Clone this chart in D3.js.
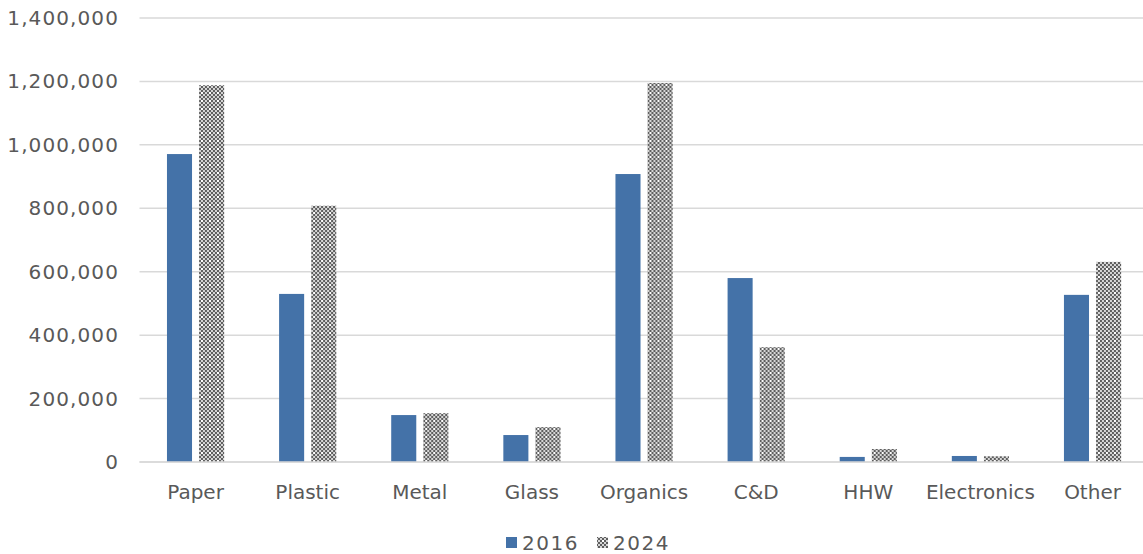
<!DOCTYPE html>
<html>
<head>
<meta charset="utf-8">
<script src="https://cdn.jsdelivr.net/npm/d3@7"></script>
<style>
  html, body { margin: 0; padding: 0; background: #fff; }
  svg { display: block; font-family: "DejaVu Sans", sans-serif; }
</style>
</head>
<body>
<svg id="chart" width="1143" height="554"></svg>
<script>
// Tonnage by material category, 2016 vs 2024
const categories = ["Paper", "Plastic", "Metal", "Glass", "Organics", "C&D", "HHW", "Electronics", "Other"];
const series = ["2016", "2024"];
const values2016 = [971000, 530000, 148000, 85000, 908000, 580000, 16000, 19000, 527000];
const values2024 = [1188000, 808000, 154000, 110000, 1195000, 362000, 41000, 18000, 631000];
const yTicks = [0, 200000, 400000, 600000, 800000, 1000000, 1200000, 1400000];

const svg = d3.select("#chart");
const margin = { left: 139.5, right: 1148.6, top: 18, bottom: 462 };

const x0 = d3.scaleBand().domain(categories)
  .range([margin.left, margin.right])
  .paddingInner(0.49).paddingOuter(0.245);
const x1 = d3.scaleBand().domain(series)
  .range([0, x0.bandwidth()]).paddingInner(0.22);
const y = d3.scaleLinear().domain([0, 1400000]).range([margin.bottom, margin.top]);

// Checkered fill for the 2024 series
const defs = svg.append("defs");
const pat = defs.append("pattern").attr("id", "checker")
  .attr("patternUnits", "userSpaceOnUse").attr("width", 8).attr("height", 8);
pat.append("rect").attr("width", 8).attr("height", 8).attr("fill", "#d6d6d6");
for (let i = 0; i < 4; i++) {
  for (let j = 0; j < 4; j++) {
    if ((i + j) % 2 === 0) {
      pat.append("rect").attr("x", i * 2).attr("y", j * 2).attr("width", 2).attr("height", 2).attr("fill", "#5e5e5e");
    }
  }
}
pat.append("rect").attr("x", 2).attr("y", 4).attr("width", 2).attr("height", 2).attr("fill", "#ffffff");
const fills = { "2016": "#4472a8", "2024": "url(#checker)" };

// Gridlines
svg.append("g").selectAll("line").data(yTicks).join("line")
  .attr("x1", margin.left).attr("x2", 1143)
  .attr("y1", d => y(d)).attr("y2", d => y(d))
  .attr("stroke", "#d9d9d9").attr("stroke-width", 1.5);

// Y axis labels
svg.append("g").selectAll("text").data(yTicks).join("text")
  .attr("x", 119).attr("y", d => y(d) + 7)
  .attr("text-anchor", "end")
  .attr("font-size", 20).attr("letter-spacing", 1.1).attr("fill", "#595959")
  .text(d => d3.format(",")(d));

// Bars
const data = categories.map((c, i) => ({ cat: c, vals: [
  { s: "2016", v: values2016[i] }, { s: "2024", v: values2024[i] }] }));
const groups = svg.append("g").selectAll("g").data(data).join("g")
  .attr("transform", d => `translate(${x0(d.cat)},0)`);
groups.selectAll("rect").data(d => d.vals).join("rect")
  .attr("x", d => x1(d.s))
  .attr("width", x1.bandwidth())
  .attr("y", d => y(d.v))
  .attr("height", d => y(0) - y(d.v))
  .attr("fill", d => fills[d.s]);

// Baseline
svg.append("line").attr("x1", margin.left).attr("x2", 1143)
  .attr("y1", y(0)).attr("y2", y(0))
  .attr("stroke", "#d9d9d9").attr("stroke-width", 1.5);

// Category labels
svg.append("g").selectAll("text").data(categories).join("text")
  .attr("x", d => x0(d) + x0.bandwidth() / 2)
  .attr("y", 499)
  .attr("text-anchor", "middle")
  .attr("font-size", 20).attr("fill", "#595959")
  .text(d => d);

// Legend
const legend = svg.append("g");
const legendItems = [{ s: "2016", x: 506 }, { s: "2024", x: 597 }];
legendItems.forEach(it => {
  legend.append("rect").attr("x", it.x).attr("y", 537).attr("width", 11).attr("height", 11)
    .attr("fill", fills[it.s]);
  legend.append("text").attr("x", it.x + 16).attr("y", 550)
    .attr("font-size", 20).attr("letter-spacing", 1.5).attr("fill", "#595959").text(it.s);
});
</script>
</body>
</html>
